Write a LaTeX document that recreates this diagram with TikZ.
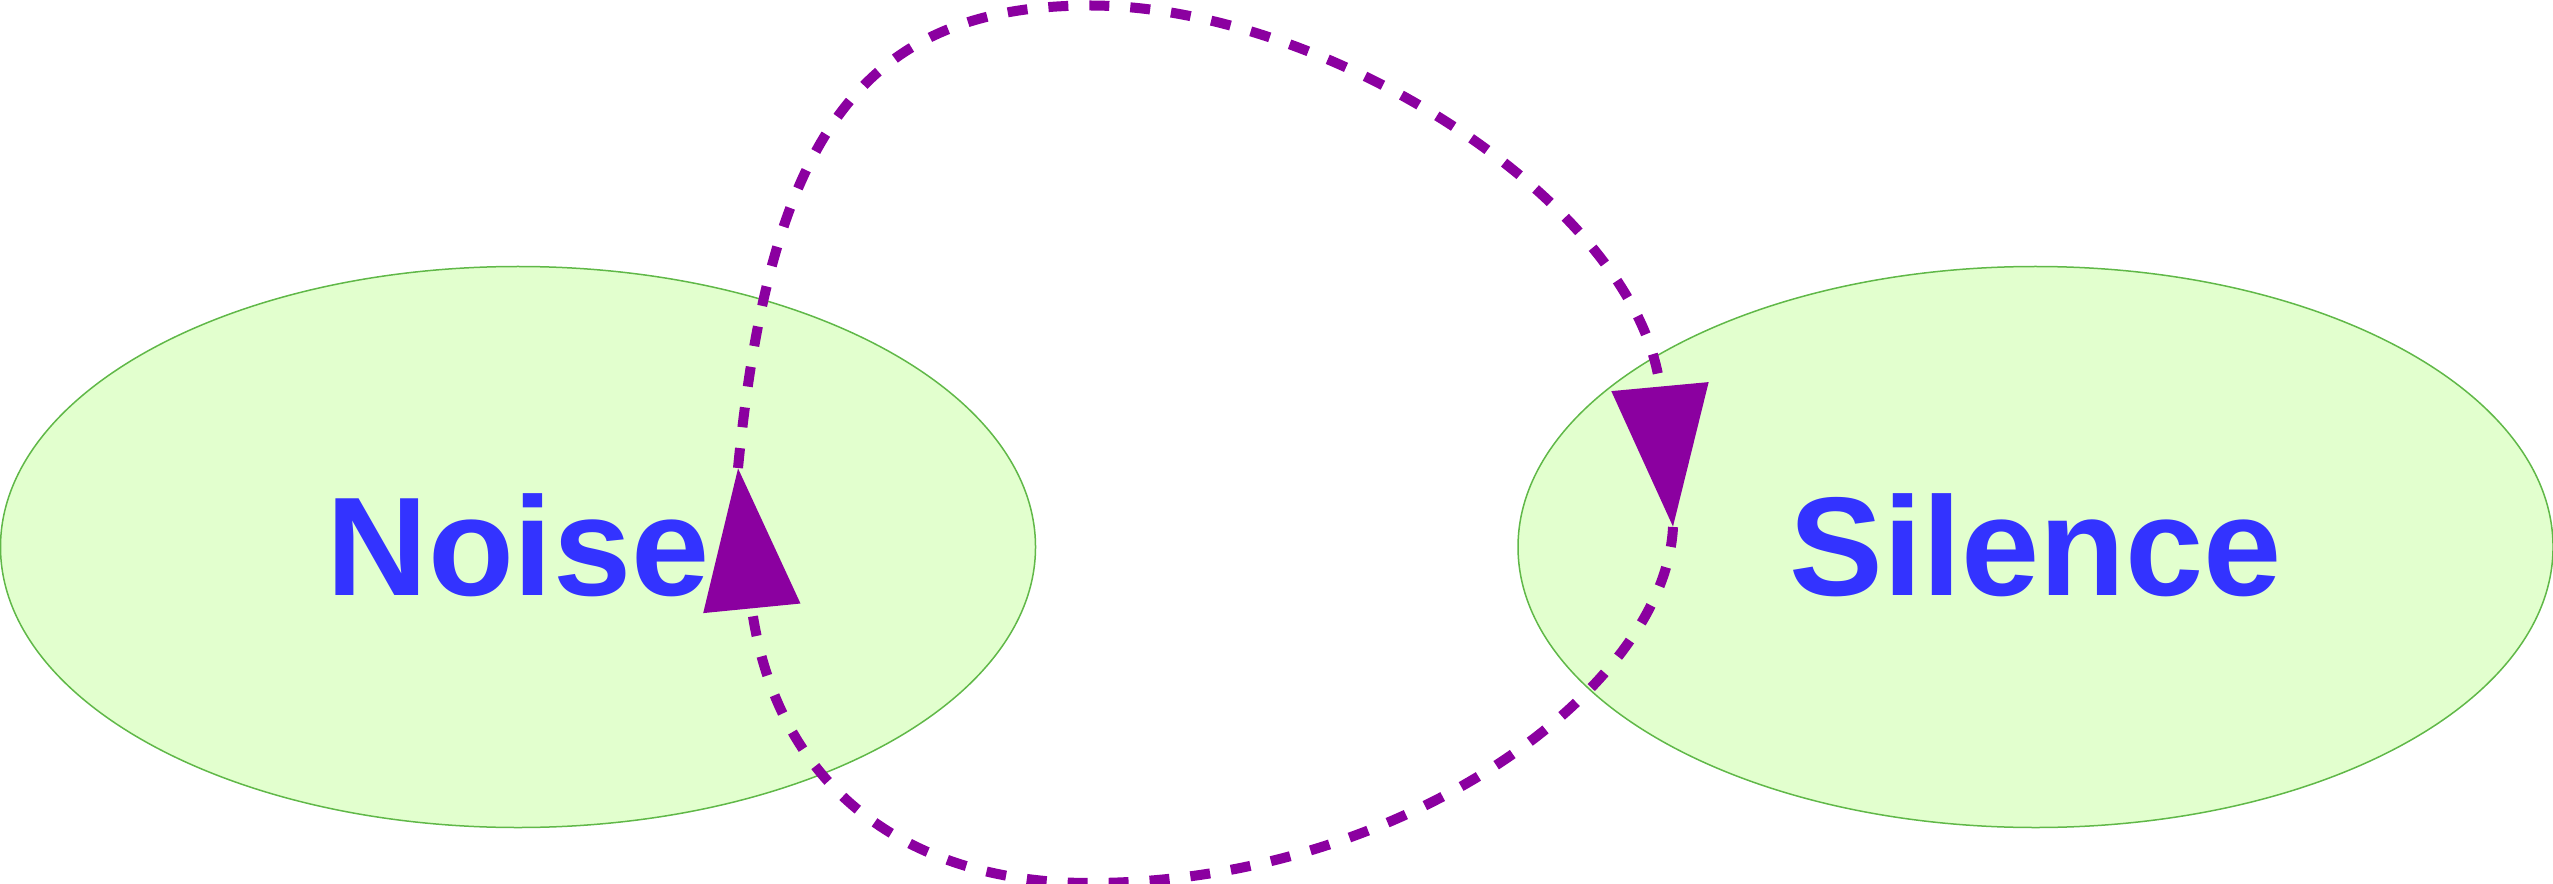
\documentclass[tikz,border=0pt]{standalone}
\usepackage{fontspec}
\setmainfont{Liberation Sans}
\usetikzlibrary{arrows.meta,shapes.geometric}
\definecolor{statefill}{RGB}{226,255,206}
\definecolor{stateline}{RGB}{96,184,72}
\definecolor{labelblue}{RGB}{51,51,255}
\definecolor{edgepurple}{RGB}{139,0,160}
\begin{document}
\begin{tikzpicture}[
  state/.style={ellipse, draw=stateline, line width=0.015cm, fill=statefill,
    minimum width=10.35cm, minimum height=5.61cm, inner sep=0pt,
    text=labelblue, font=\fontsize{40}{48}\selectfont\bfseries,
    text height=0.96cm, text depth=0pt},
  flow/.style={draw=edgepurple, line width=0.1cm,
    dash pattern=on 0.2cm off 0.21cm,
    -{Triangle[length=1.41cm, width=0.95cm]}},
]
\useasboundingbox (0,0) rectangle (25.53,-8.84);
\node[state] (noise) at (5.18,-5.47) {Noise};
\node[state] (silence) at (20.355,-5.47) {Silence};
\coordinate (nTip) at (7.38,-4.68);
\coordinate (nBase) at (7.52,-6.10);
\coordinate (sTip) at (16.73,-5.27);
\coordinate (sBase) at (16.60,-3.87);
\coordinate (topM) at (10.90,-0.055);
\coordinate (botM) at (10.90,-8.83);
\draw[flow] (nTip) .. controls +(0.32,3.28) and +(-2.30,0) .. (topM)
  .. controls +(2.35,0) and +(-0.24,1.85) .. (sBase) -- (sTip);
\draw[flow] (sTip) .. controls +(-0.08,-1.63) and +(3.10,0) .. (botM)
  .. controls +(-1.80,0) and +(0.26,-1.80) .. (nBase) -- (nTip);
\end{tikzpicture}
\end{document}
